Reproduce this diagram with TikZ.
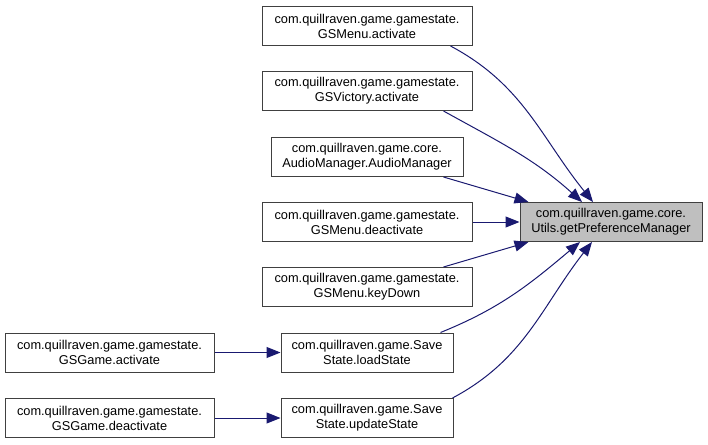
\documentclass[tikz,border=0pt]{standalone}
\usepackage{fontspec}
\setmainfont{Liberation Sans}
\usepackage{xcolor}
\usetikzlibrary{arrows.meta, positioning}

\definecolor{edgeblue}{HTML}{191970}
\definecolor{focusgray}{HTML}{BFBFBF}

\begin{document}
\begin{tikzpicture}[x=1pt, y=1pt,
    fn/.style={draw=black!75, line width=1pt, fill=white, align=center,
      inner sep=0pt, minimum height=39pt,
      font=\fontsize{12.8}{15}\selectfont},
    call/.style={draw=edgeblue, line width=1pt,
      -{Triangle[length=14pt, width=11pt]}, edgeblue}]
  \useasboundingbox (0,0) rectangle (708,-444);

  % The function everything points at
  \node[fn, fill=focusgray, minimum width=182pt] (prefmgr) at (611,-222)
    {com.quillraven.game.core.\\Utils.getPreferenceManager};

  % Direct callers
  \node[fn, minimum width=210pt] (menuact) at (367,-26)
    {com.quillraven.game.gamestate.\\GSMenu.activate};
  \node[fn, minimum width=210pt] (victact) at (367,-91)
    {com.quillraven.game.gamestate.\\GSVictory.activate};
  \node[fn, minimum width=192pt] (audiomgr) at (367,-157)
    {com.quillraven.game.core.\\AudioManager.AudioManager};
  \node[fn, minimum width=210pt] (menudeact) at (367,-222)
    {com.quillraven.game.gamestate.\\GSMenu.deactivate};
  \node[fn, minimum width=210pt] (menukey) at (367,-287)
    {com.quillraven.game.gamestate.\\GSMenu.keyDown};
  \node[fn, minimum width=172pt] (loadst) at (367,-352.5)
    {com.quillraven.game.Save\\State.loadState};
  \node[fn, minimum width=172pt] (updatest) at (367,-418)
    {com.quillraven.game.Save\\State.updateState};

  % Second level callers
  \node[fn, minimum width=209pt] (gameact) at (109.5,-352.5)
    {com.quillraven.game.gamestate.\\GSGame.activate};
  \node[fn, minimum width=209pt] (gamedeact) at (109.5,-418)
    {com.quillraven.game.gamestate.\\GSGame.deactivate};

  % Edges into getPreferenceManager
  \draw[call] ([xshift=-22pt]menuact.south east) to[out=-28, in=129]
    ([xshift=-18pt]prefmgr.north);
  \draw[call] ([xshift=-29pt]victact.south east) to[out=-29, in=138]
    ([xshift=-29pt]prefmgr.north);
  \draw[call] ([xshift=-20pt]audiomgr.south east) --
    ([xshift=9pt]prefmgr.north west);
  \draw[call] (menudeact.east) -- (prefmgr.west);
  \draw[call] ([xshift=-29pt]menukey.north east) --
    ([xshift=9pt]prefmgr.south west);
  \draw[call] ([xshift=-13pt]loadst.north east) to[out=22, in=-140]
    ([xshift=-31pt]prefmgr.south);
  \draw[call] ([xshift=-1pt]updatest.north east) to[out=28, in=-128]
    ([xshift=-19pt]prefmgr.south);

  % Edges into SaveState
  \draw[call] (gameact.east) -- (loadst.west);
  \draw[call] (gamedeact.east) -- (updatest.west);
\end{tikzpicture}
\end{document}
